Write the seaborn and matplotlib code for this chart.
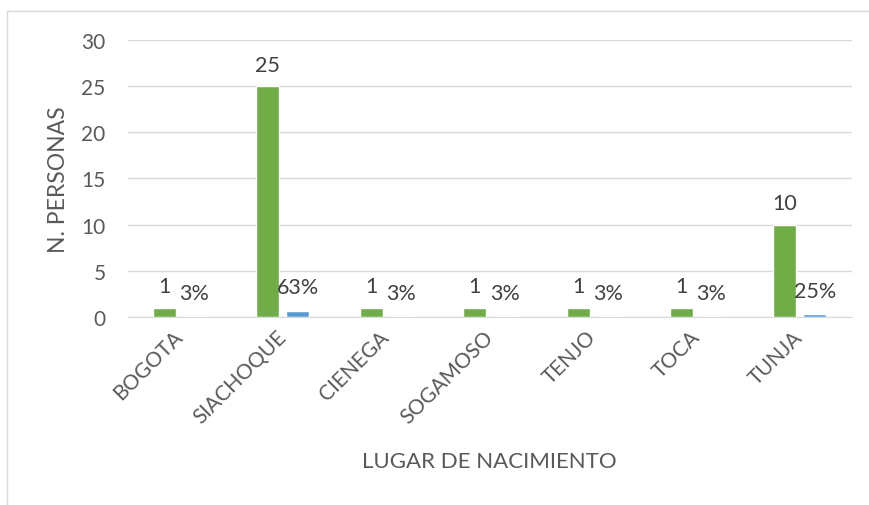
import pandas as pd
import matplotlib.pyplot as plt
import matplotlib.patches as mpatches
import seaborn as sns

lugares = ['BOGOTA', 'SIACHOQUE', 'CIENEGA', 'SOGAMOSO', 'TENJO', 'TOCA', 'TUNJA']
personas = [1, 25, 1, 1, 1, 1, 10]
porcentaje = [0.03, 0.63, 0.03, 0.03, 0.03, 0.03, 0.25]

data = pd.DataFrame({
    'lugar': lugares * 2,
    'serie': ['N'] * len(lugares) + ['%'] * len(lugares),
    'valor': personas + porcentaje,
})

sns.set_style('white')
plt.rcParams['font.family'] = ['Lato', 'DejaVu Sans']

gris = '#595959'
fig = plt.figure(figsize=(8.69, 5.06), dpi=100)
ax = fig.add_axes([0.147, 0.372, 0.833, 0.547])

sns.barplot(data=data, x='lugar', y='valor', hue='serie',
            palette=['#70AD47', '#5B9BD5'], width=0.58, gap=0.23,
            saturation=1, legend=False, ax=ax)

ax.bar_label(ax.containers[0], labels=[str(v) for v in personas],
             padding=8, fontsize=15.5, color='#404040')
ax.bar_label(ax.containers[1], labels=[f'{round(v * 100)}%' for v in porcentaje],
             padding=10, fontsize=15.5, color='#404040')

ax.set_ylim(0, 30)
ax.set_yticks(range(0, 31, 5))
ax.set_xlim(-0.5, len(lugares) - 0.5)
ax.yaxis.grid(True, color='#d9d9d9', linewidth=1)
ax.set_axisbelow(True)
for s in ['top', 'right', 'left']:
    ax.spines[s].set_visible(False)
ax.spines['bottom'].set_color('#d9d9d9')
ax.tick_params(axis='both', length=0, labelsize=15, colors=gris)
ax.tick_params(axis='y', pad=16)
plt.setp(ax.get_xticklabels(), rotation=45, ha='right', va='center',
         rotation_mode='anchor')
ax.tick_params(axis='x', pad=12)

ax.set_xlabel('LUGAR DE NACIMIENTO', fontsize=16, color=gris, va='center')
ax.set_ylabel('N. PERSONAS', fontsize=16.5, color=gris, va='center')
ax.xaxis.set_label_coords(0.5, -0.52)
ax.yaxis.set_label_coords(-0.095, 0.5)

fig.patches.append(mpatches.Rectangle((7 / 869, -0.1), 1.2, 1.1 - 12 / 506,
                                      transform=fig.transFigure, fill=False,
                                      edgecolor='#d9d9d9', linewidth=1))

fig.savefig('out.png', dpi=100)
